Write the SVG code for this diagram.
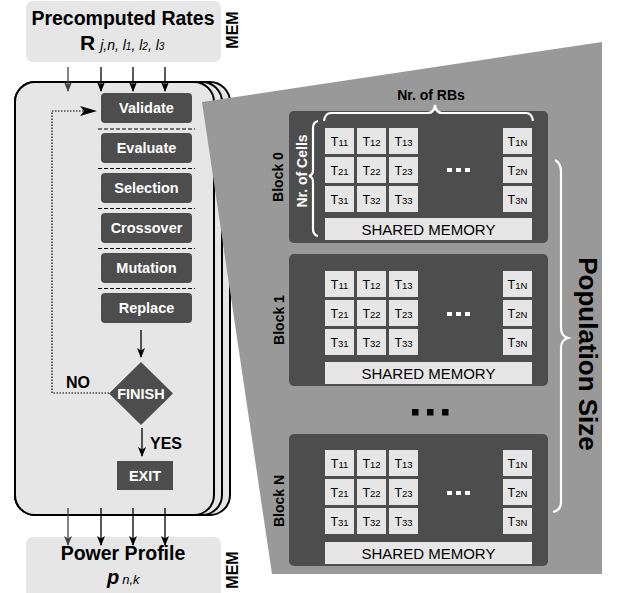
<svg xmlns="http://www.w3.org/2000/svg" width="617" height="593" viewBox="0 0 617 593">
  <style>
    text { font-family: "Liberation Sans", Arial, sans-serif; }
    .mem { fill: #e6e6e6; }
    .card { fill: #e6e6e6; stroke: #000; stroke-width: 2; }
    .step { fill: #4d4d4d; }
    .stepTxt { fill: #fff; font-weight: bold; font-size: 14.5px; text-anchor: middle; }
    .title { font-weight: bold; font-size: 19.5px; text-anchor: middle; fill: #000; }
    .side { font-weight: bold; font-size: 16px; text-anchor: middle; fill: #000; }
    .lbl { font-weight: bold; font-size: 16px; fill: #000; }
    .sep { stroke: #000; stroke-width: 1.2; stroke-dasharray: 4 2; fill: none; }
    .flow { stroke: #000; stroke-width: 1.3; fill: none; }
    .loop { stroke: #000; stroke-width: 1.2; stroke-dasharray: 1.5 1.5; fill: none; }
    .block { fill: #4d4d4d; }
    .cell { fill: #e6e6e6; }
    .t { font-size: 12.5px; fill: #000; text-anchor: middle; }
    .sub { font-size: 9.5px; }
    .shared { font-size: 15px; fill: #000; text-anchor: middle; }
    .blk { font-weight: bold; font-size: 14px; text-anchor: middle; fill: #000; }
    .brace { stroke: #fff; stroke-width: 2.2; fill: none; }
    .dotw { fill: #fff; }
  </style>
  <defs>
    <marker id="arr" markerUnits="userSpaceOnUse" markerWidth="10" markerHeight="10" viewBox="0 0 10 8" refX="9" refY="4" orient="auto">
      <path d="M0,0 L10,4 L0,8 L2.5,4 z" fill="#000"/>
    </marker>
    <marker id="arrGray" markerUnits="userSpaceOnUse" markerWidth="10" markerHeight="10" viewBox="0 0 10 8" refX="9" refY="4" orient="auto">
      <path d="M0,0 L10,4 L0,8 L2.5,4 z" fill="#444"/>
    </marker>
  </defs>

  <!-- input memory -->
  <g id="precomputed-rates">
    <rect class="mem" x="26" y="1" width="195" height="61" rx="7"/>
    <text class="title" x="123" y="25">Precomputed Rates</text>
    <text x="80" y="50"><tspan font-weight="bold" font-size="21px">R</tspan><tspan font-style="italic" font-size="14px" dx="5">j,n, l</tspan><tspan font-style="italic" font-size="10px">1</tspan><tspan font-style="italic" font-size="14px">, l</tspan><tspan font-style="italic" font-size="10px">2</tspan><tspan font-style="italic" font-size="14px">, l</tspan><tspan font-style="italic" font-size="10px">3</tspan></text>
    <text class="side" transform="translate(238,30) rotate(-90)">MEM</text>
  </g>

  <!-- stacked kernel cards -->
  <g id="kernel-stack">
    <rect class="card" x="15" y="82" width="215" height="433" rx="20"/>
    <rect class="card" x="15" y="82" width="207" height="433" rx="20"/>
    <rect class="card" x="15" y="82" width="199" height="433" rx="20"/>
  </g>

  <!-- grid of thread blocks -->
  <g id="gpu-grid">
    <polygon points="202,102 602,42 602,574 272,574" fill="#999"/>
  </g>

  <!-- GA steps -->
  <g id="validate"><rect class="step" x="101" y="93" width="91" height="30" rx="4"/><text class="stepTxt" x="146.5" y="113">Validate</text></g>
  <g id="evaluate"><rect class="step" x="101" y="133" width="91" height="30" rx="4"/><text class="stepTxt" x="146.5" y="153">Evaluate</text></g>
  <g id="selection"><rect class="step" x="101" y="173" width="91" height="30" rx="4"/><text class="stepTxt" x="146.5" y="193">Selection</text></g>
  <g id="crossover"><rect class="step" x="101" y="213" width="91" height="30" rx="4"/><text class="stepTxt" x="146.5" y="233">Crossover</text></g>
  <g id="mutation"><rect class="step" x="101" y="253" width="91" height="30" rx="4"/><text class="stepTxt" x="146.5" y="273">Mutation</text></g>
  <g id="replace"><rect class="step" x="101" y="293" width="91" height="30" rx="4"/><text class="stepTxt" x="146.5" y="313">Replace</text></g>

  <g id="finish">
    <polygon points="141,362 173,393.5 141,425 109,393.5" fill="#4d4d4d"/>
    <text class="stepTxt" x="141" y="399" font-size="15px">FINISH</text>
  </g>
  <g id="exit">
    <rect class="step" x="117" y="461" width="56" height="29"/>
    <text class="stepTxt" x="145" y="481" font-size="15px">EXIT</text>
  </g>

  <!-- output memory -->
  <g id="power-profile">
    <rect class="mem" x="26" y="537" width="195" height="70" rx="7"/>
    <text class="title" x="123" y="560">Power Profile</text>
    <text x="107" y="584"><tspan font-weight="bold" font-style="italic" font-size="20px">p</tspan><tspan font-style="italic" font-size="13px" dx="3">n,k</tspan></text>
    <text class="side" transform="translate(238,570) rotate(-90)">MEM</text>
  </g>

  <!-- connectors -->
  <g id="connectors">
    <line x1="68" y1="67" x2="68" y2="91" stroke="#444" stroke-width="1.3" marker-end="url(#arrGray)"/>
    <line class="flow" x1="101" y1="67" x2="101" y2="91" marker-end="url(#arr)"/>
    <line class="flow" x1="133" y1="67" x2="133" y2="91" marker-end="url(#arr)"/>
    <line class="flow" x1="165" y1="67" x2="165" y2="91" marker-end="url(#arr)"/>

    <line class="sep" x1="98" y1="129" x2="195" y2="129"/>
    <line class="sep" x1="98" y1="168.5" x2="195" y2="168.5"/>
    <line class="sep" x1="98" y1="208.5" x2="195" y2="208.5"/>
    <line class="sep" x1="98" y1="248.5" x2="195" y2="248.5"/>
    <line class="sep" x1="98" y1="288.5" x2="195" y2="288.5"/>

    <line class="flow" x1="141" y1="330" x2="141" y2="357" marker-end="url(#arr)"/>
    <line class="flow" x1="142" y1="428" x2="142" y2="456" marker-end="url(#arr)"/>

    <polyline class="loop" points="109,393 52,393 52,111 84,111"/>
    <path d="M80,106 L97,111 L80,116 L84,111 z" fill="#000"/>

    <line x1="68" y1="508" x2="68" y2="545" stroke="#444" stroke-width="1.3" marker-end="url(#arrGray)"/>
    <line class="flow" x1="101" y1="508" x2="101" y2="545" marker-end="url(#arr)"/>
    <line class="flow" x1="133" y1="508" x2="133" y2="545" marker-end="url(#arr)"/>
    <line class="flow" x1="165" y1="508" x2="165" y2="545" marker-end="url(#arr)"/>
  </g>

  <g id="branch-labels">
    <text class="lbl" x="66" y="388">NO</text>
    <text class="lbl" x="150" y="449">YES</text>
  </g>

  <!-- block 0 -->
  <g id="block-0">
    <rect class="block" x="289" y="111" width="259" height="132" rx="5"/>
    <rect class="cell" x="325" y="128" width="29" height="26"/><text class="t" x="339.5" y="146">T<tspan class="sub">11</tspan></text>
    <rect class="cell" x="357" y="128" width="29" height="26"/><text class="t" x="371.5" y="146">T<tspan class="sub">12</tspan></text>
    <rect class="cell" x="389" y="128" width="29" height="26"/><text class="t" x="403.5" y="146">T<tspan class="sub">13</tspan></text>
    <rect class="cell" x="503" y="128" width="29" height="26"/><text class="t" x="517.5" y="146">T<tspan class="sub">1N</tspan></text>
    <rect class="cell" x="325" y="157" width="29" height="26"/><text class="t" x="339.5" y="175">T<tspan class="sub">21</tspan></text>
    <rect class="cell" x="357" y="157" width="29" height="26"/><text class="t" x="371.5" y="175">T<tspan class="sub">22</tspan></text>
    <rect class="cell" x="389" y="157" width="29" height="26"/><text class="t" x="403.5" y="175">T<tspan class="sub">23</tspan></text>
    <rect class="cell" x="503" y="157" width="29" height="26"/><text class="t" x="517.5" y="175">T<tspan class="sub">2N</tspan></text>
    <rect class="cell" x="325" y="186" width="29" height="26"/><text class="t" x="339.5" y="204">T<tspan class="sub">31</tspan></text>
    <rect class="cell" x="357" y="186" width="29" height="26"/><text class="t" x="371.5" y="204">T<tspan class="sub">32</tspan></text>
    <rect class="cell" x="389" y="186" width="29" height="26"/><text class="t" x="403.5" y="204">T<tspan class="sub">33</tspan></text>
    <rect class="cell" x="503" y="186" width="29" height="26"/><text class="t" x="517.5" y="204">T<tspan class="sub">3N</tspan></text>
    <rect class="dotw" x="447" y="168" width="5" height="4"/><rect class="dotw" x="456" y="168" width="5" height="4"/><rect class="dotw" x="465" y="168" width="5" height="4"/>
    <rect class="cell" x="325" y="218" width="207" height="22"/><text class="shared" x="428.5" y="235">SHARED MEMORY</text>
    <text class="blk" transform="translate(283,177) rotate(-90)">Block 0</text>
    <text class="blk" fill="#fff" style="fill:#fff" font-size="15px" transform="translate(307,171) rotate(-90)">Nr. of Cells</text>
    <path class="brace" d="M318,121 Q313,122 313,128 L313,170 Q313,175 309,176 Q313,177 313,182 L313,229 Q313,235 318,236"/>
    <path class="brace" d="M324,121 Q325,113 331,113 L428,113 Q434,113 435,105 Q436,113 442,113 L526,113 Q532,113 533,121"/>
    <text class="blk" x="431" y="100" font-size="15px">Nr. of RBs</text>
  </g>

  <!-- block 1 -->
  <g id="block-1">
    <rect class="block" x="289" y="254" width="259" height="132" rx="5"/>
    <rect class="cell" x="325" y="271" width="29" height="26"/><text class="t" x="339.5" y="289">T<tspan class="sub">11</tspan></text>
    <rect class="cell" x="357" y="271" width="29" height="26"/><text class="t" x="371.5" y="289">T<tspan class="sub">12</tspan></text>
    <rect class="cell" x="389" y="271" width="29" height="26"/><text class="t" x="403.5" y="289">T<tspan class="sub">13</tspan></text>
    <rect class="cell" x="503" y="271" width="29" height="26"/><text class="t" x="517.5" y="289">T<tspan class="sub">1N</tspan></text>
    <rect class="cell" x="325" y="300" width="29" height="26"/><text class="t" x="339.5" y="318">T<tspan class="sub">21</tspan></text>
    <rect class="cell" x="357" y="300" width="29" height="26"/><text class="t" x="371.5" y="318">T<tspan class="sub">22</tspan></text>
    <rect class="cell" x="389" y="300" width="29" height="26"/><text class="t" x="403.5" y="318">T<tspan class="sub">23</tspan></text>
    <rect class="cell" x="503" y="300" width="29" height="26"/><text class="t" x="517.5" y="318">T<tspan class="sub">2N</tspan></text>
    <rect class="cell" x="325" y="329" width="29" height="26"/><text class="t" x="339.5" y="347">T<tspan class="sub">31</tspan></text>
    <rect class="cell" x="357" y="329" width="29" height="26"/><text class="t" x="371.5" y="347">T<tspan class="sub">32</tspan></text>
    <rect class="cell" x="389" y="329" width="29" height="26"/><text class="t" x="403.5" y="347">T<tspan class="sub">33</tspan></text>
    <rect class="cell" x="503" y="329" width="29" height="26"/><text class="t" x="517.5" y="347">T<tspan class="sub">3N</tspan></text>
    <rect class="dotw" x="447" y="312" width="5" height="4"/><rect class="dotw" x="456" y="312" width="5" height="4"/><rect class="dotw" x="465" y="312" width="5" height="4"/>
    <rect class="cell" x="325" y="362" width="207" height="22"/><text class="shared" x="428.5" y="379">SHARED MEMORY</text>
    <text class="blk" transform="translate(284,320) rotate(-90)">Block 1</text>
  </g>

  <g id="more-blocks">
    <rect x="412" y="409" width="6.5" height="6.5" fill="#000"/>
    <rect x="427" y="409" width="6.5" height="6.5" fill="#000"/>
    <rect x="442" y="409" width="6.5" height="6.5" fill="#000"/>
  </g>

  <!-- block N -->
  <g id="block-n">
    <rect class="block" x="289" y="434" width="259" height="132" rx="5"/>
    <rect class="cell" x="325" y="450" width="29" height="26"/><text class="t" x="339.5" y="468">T<tspan class="sub">11</tspan></text>
    <rect class="cell" x="357" y="450" width="29" height="26"/><text class="t" x="371.5" y="468">T<tspan class="sub">12</tspan></text>
    <rect class="cell" x="389" y="450" width="29" height="26"/><text class="t" x="403.5" y="468">T<tspan class="sub">13</tspan></text>
    <rect class="cell" x="503" y="450" width="29" height="26"/><text class="t" x="517.5" y="468">T<tspan class="sub">1N</tspan></text>
    <rect class="cell" x="325" y="479" width="29" height="26"/><text class="t" x="339.5" y="497">T<tspan class="sub">21</tspan></text>
    <rect class="cell" x="357" y="479" width="29" height="26"/><text class="t" x="371.5" y="497">T<tspan class="sub">22</tspan></text>
    <rect class="cell" x="389" y="479" width="29" height="26"/><text class="t" x="403.5" y="497">T<tspan class="sub">23</tspan></text>
    <rect class="cell" x="503" y="479" width="29" height="26"/><text class="t" x="517.5" y="497">T<tspan class="sub">2N</tspan></text>
    <rect class="cell" x="325" y="508" width="29" height="26"/><text class="t" x="339.5" y="526">T<tspan class="sub">31</tspan></text>
    <rect class="cell" x="357" y="508" width="29" height="26"/><text class="t" x="371.5" y="526">T<tspan class="sub">32</tspan></text>
    <rect class="cell" x="389" y="508" width="29" height="26"/><text class="t" x="403.5" y="526">T<tspan class="sub">33</tspan></text>
    <rect class="cell" x="503" y="508" width="29" height="26"/><text class="t" x="517.5" y="526">T<tspan class="sub">3N</tspan></text>
    <rect class="dotw" x="447" y="491" width="5" height="4"/><rect class="dotw" x="456" y="491" width="5" height="4"/><rect class="dotw" x="465" y="491" width="5" height="4"/>
    <rect class="cell" x="325" y="542" width="207" height="22"/><text class="shared" x="428.5" y="559">SHARED MEMORY</text>
    <text class="blk" transform="translate(284,501) rotate(-90)">Block N</text>
  </g>

  <!-- population brace -->
  <g id="population-size">
    <path class="brace" d="M555,160 Q561,163 561,172 L561,328 Q561,336 568,338 Q561,340 561,348 L561,502 Q561,510 553,512"/>
    <text font-weight="bold" font-size="26px" text-anchor="middle" transform="translate(579,354) rotate(90)">Population Size</text>
  </g>
</svg>
